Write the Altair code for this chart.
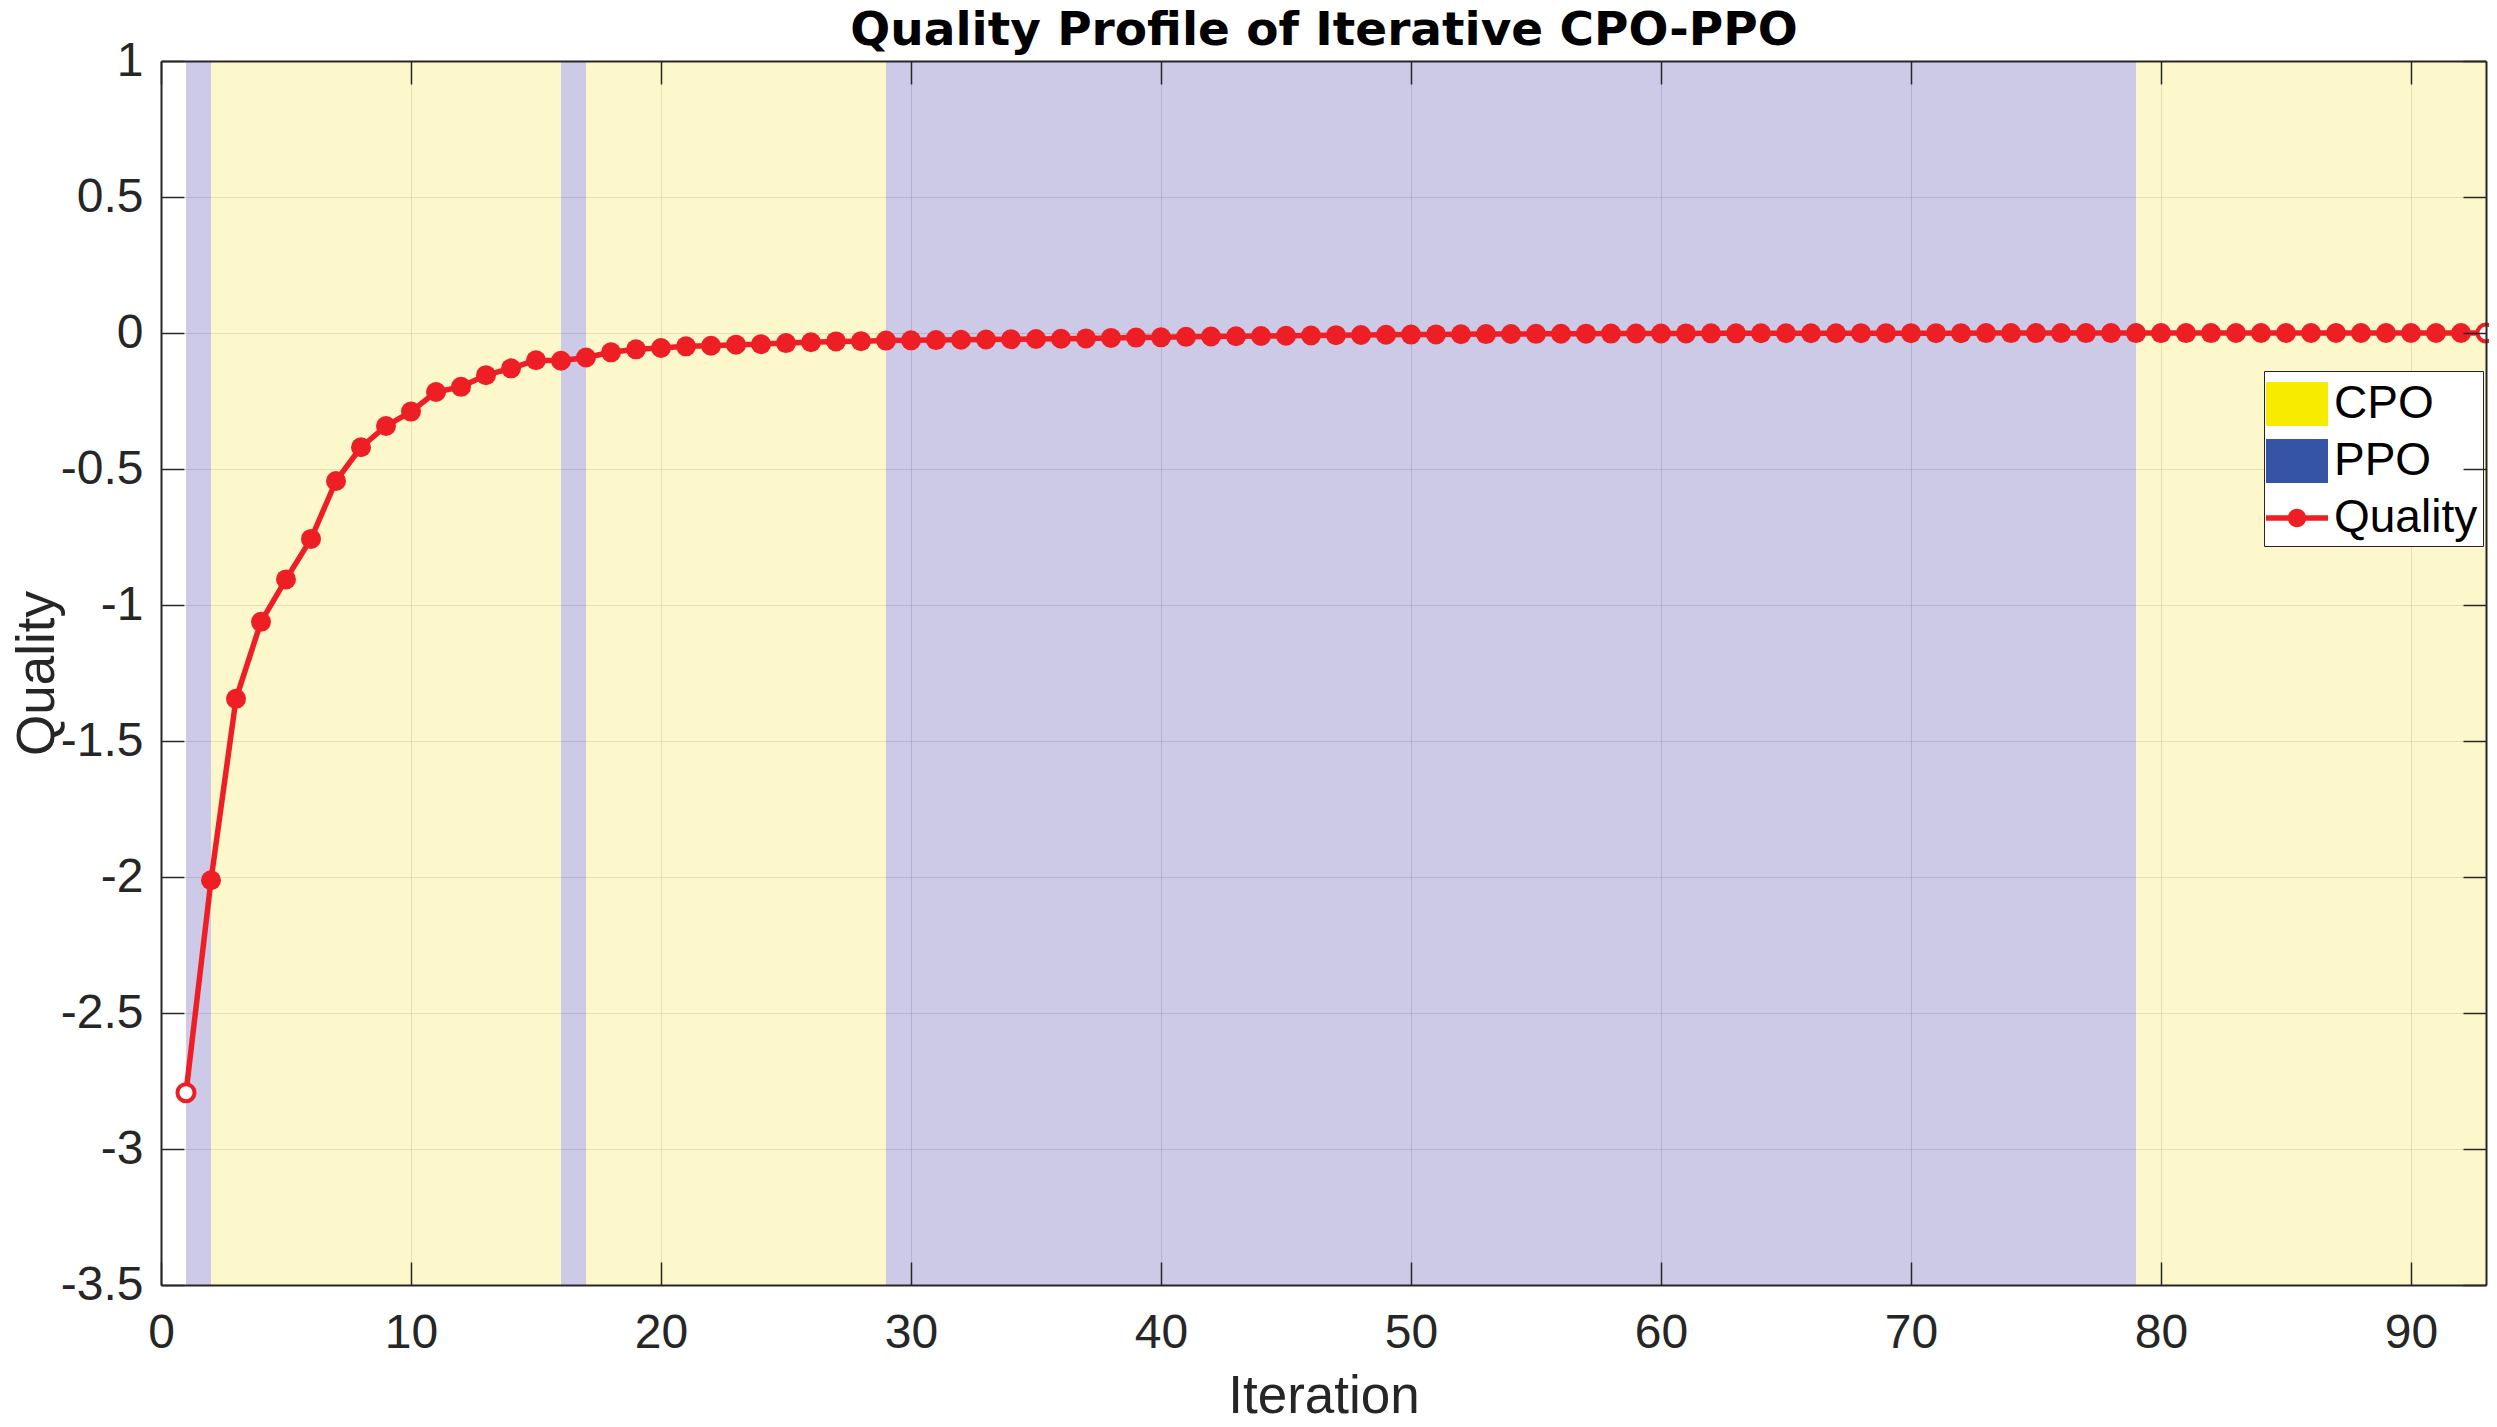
import altair as alt
import pandas as pd

# ---------------- data ----------------
iterations = list(range(1, 94))
quality = [
    -2.793, -2.012, -1.345, -1.062, -0.906, -0.757, -0.544, -0.420, -0.342, -0.289,
    -0.217, -0.198, -0.155, -0.130, -0.100, -0.102, -0.090, -0.071, -0.060, -0.055,
    -0.049, -0.047, -0.043, -0.041, -0.037, -0.034, -0.031, -0.030, -0.028, -0.027,
    -0.026, -0.025, -0.024, -0.023, -0.022, -0.021, -0.020, -0.018, -0.017, -0.016,
    -0.014, -0.013, -0.012, -0.011, -0.010, -0.009, -0.008, -0.0072, -0.0065, -0.0058,
    -0.0052, -0.0046, -0.0041, -0.0036, -0.0032, -0.0028, -0.0025, -0.0022, -0.0019, -0.0017,
    -0.0015, -0.0013, -0.0012, -0.0011, -0.0010, -0.0009, -0.0008, -0.0007, -0.0007, -0.0006,
    -0.0005, -0.0005, -0.0004, -0.0004, -0.0004, -0.0003, -0.0003, -0.0003, -0.0002, -0.0002,
    -0.0002, -0.0002, -0.0001, -0.0001, -0.0001, -0.0001, -0.0001, -0.0001, 0.0, 0.0,
    0.0, 0.0, 0.0,
]

phase_start = [1, 2, 16, 17, 29, 79]
phase_end = [2, 16, 17, 29, 79, 93]
phase_name = ["PPO", "CPO", "PPO", "CPO", "PPO", "CPO"]

legend_entries = ["CPO", "PPO", "Quality"]

x_ticks = [0, 10, 20, 30, 40, 50, 60, 70, 80, 90]
y_ticks = [-3.5, -3, -2.5, -2, -1.5, -1, -0.5, 0, 0.5, 1]
x_domain = [0, 93]
y_domain = [-3.5, 1]

chart_title = "Quality Profile of Iterative CPO-PPO"

# ---------------- style ----------------
W, H = 2325, 1224
AX = "#262626"
FONT = "Liberation Sans"
RED = "#EE1F24"
CPO_FILL = "#F3E333"
PPO_FILL = "#332B9B"
CPO_LEG = "#F7EC00"
PPO_LEG = "#3654A6"

SWATCH = "M-1.107,-0.786H1.107V0.786H-1.107Z"
LINE_SYM = ("M-1.107,-0.1H1.107V0.1H-1.107Z "
            "M-0.33,0A0.33,0.33 0 1,1 0.33,0A0.33,0.33 0 1,1 -0.33,0Z")

df_q = pd.DataFrame({"Iteration": iterations, "Quality": quality})
df_p = pd.DataFrame({"start": phase_start, "end": phase_end, "phase": phase_name})
df_l = pd.DataFrame({"entry": legend_entries})

xscale = alt.Scale(domain=x_domain, nice=False, zero=False)
yscale = alt.Scale(domain=y_domain, nice=False, zero=False)

tick_common = dict(labels=False, grid=False, ticks=True, tickSize=23,
                   tickColor=AX, tickWidth=1.5, domain=True, domainColor=AX,
                   domainWidth=2, zindex=1)

x_main = alt.Axis(orient="bottom", values=x_ticks, title="Iteration", grid=True,
                  gridColor=AX, gridOpacity=0.15, gridWidth=1, ticks=False,
                  domain=False, labelFont=FONT, labelFontSize=48, labelColor=AX,
                  labelPadding=24, labelFlush=False, labelOverlap=False,
                  titleFont=FONT, titleFontSize=53, titleFontWeight="normal",
                  titleColor=AX, titleX=W / 2, titleY=127,
                  titleBaseline="alphabetic", titleAlign="center", zindex=0)
x_tick_bottom = alt.Axis(orient="top", offset=-H, values=x_ticks, title=None,
                         **tick_common)
# top edge: inward ticks, top spine and the chart title
x_tick_top = alt.Axis(orient="bottom", offset=-H, values=x_ticks, title=chart_title,
                      titleFont="DejaVu Sans", titleFontSize=47, titleFontWeight="bold",
                      titleColor="black", titleX=W / 2, titleY=-17, titleAngle=0,
                      titleBaseline="alphabetic", titleAlign="center",
                      **tick_common)

y_main = alt.Axis(orient="left", values=y_ticks, title="Quality", grid=True,
                  gridColor=AX, gridOpacity=0.15, gridWidth=1, ticks=False,
                  domain=False, labelFont=FONT, labelFontSize=48, labelColor=AX,
                  labelPadding=18, labelFlush=False, labelOverlap=False,
                  labelExpr="'' + datum.value",
                  titleFont=FONT, titleFontSize=53, titleFontWeight="normal",
                  titleColor=AX, titleX=-108, titleY=H / 2, titleAngle=270,
                  titleBaseline="alphabetic", titleAlign="center", zindex=0)
y_tick_left = alt.Axis(orient="right", offset=-W, values=y_ticks, title=None,
                       **tick_common)
y_tick_right = alt.Axis(orient="left", offset=-W, values=y_ticks, title=None,
                        **tick_common)

# ---------------- layers ----------------
bands = alt.Chart(df_p).mark_rect(opacity=0.25).encode(
    x=alt.X("start:Q", scale=xscale, axis=x_main),
    x2="end:Q",
    fill=alt.Fill("phase:N",
                  scale=alt.Scale(domain=["CPO", "PPO"], range=[CPO_FILL, PPO_FILL]),
                  legend=None),
)

line = alt.Chart(df_q).mark_line(color=RED, strokeWidth=5.5, strokeJoin="round").encode(
    x=alt.X("Iteration:Q", scale=xscale, axis=x_tick_bottom),
    y=alt.Y("Quality:Q", scale=yscale, axis=y_main),
)

first_it, last_it = iterations[0], iterations[-1]

dots = alt.Chart(df_q).mark_point(filled=True, color=RED, size=400, opacity=1,
                                  shape="circle").encode(
    x=alt.X("Iteration:Q", scale=xscale, axis=x_tick_top),
    y=alt.Y("Quality:Q", scale=yscale, axis=y_tick_left),
).transform_filter(f"datum.Iteration > {first_it} && datum.Iteration < {last_it}")

ends = alt.Chart(df_q).mark_point(filled=True, fill="white", stroke=RED,
                                  strokeWidth=4, size=290, opacity=1,
                                  shape="circle").encode(
    x=alt.X("Iteration:Q", scale=xscale, axis=None),
    y=alt.Y("Quality:Q", scale=yscale, axis=y_tick_right),
).transform_filter(f"datum.Iteration == {first_it} || datum.Iteration == {last_it}")

leg_props = dict(orient="none", legendX=2103, legendY=310, title=None,
                 labelFont=FONT, labelFontSize=46, labelColor="black",
                 labelLimit=400, labelOffset=9, rowPadding=6, padding=5,
                 strokeColor=AX, fillColor="white", symbolSize=3136,
                 symbolStrokeWidth=0, symbolOpacity=1, direction="vertical")

legend_layer = alt.Chart(df_l).mark_point(filled=True, size=3136, opacity=1).encode(
    color=alt.Color("entry:N",
                    scale=alt.Scale(domain=legend_entries, range=[CPO_LEG, PPO_LEG, RED]),
                    legend=alt.Legend(**leg_props)),
    shape=alt.Shape("entry:N",
                    scale=alt.Scale(domain=legend_entries, range=[SWATCH, SWATCH, LINE_SYM]),
                    legend=alt.Legend(**leg_props)),
).transform_filter("false")

chart = alt.layer(bands, line, dots, ends, legend_layer).resolve_axis(
    x="independent", y="independent"
).properties(
    width=W, height=H,
    autosize=alt.AutoSizeParams(type="none"),
    padding={"left": 153, "top": 53, "right": 3, "bottom": 129},
    background="white",
).configure_view(stroke="transparent")

chart.save("out.html", embed_options={"renderer": "svg", "actions": False})
